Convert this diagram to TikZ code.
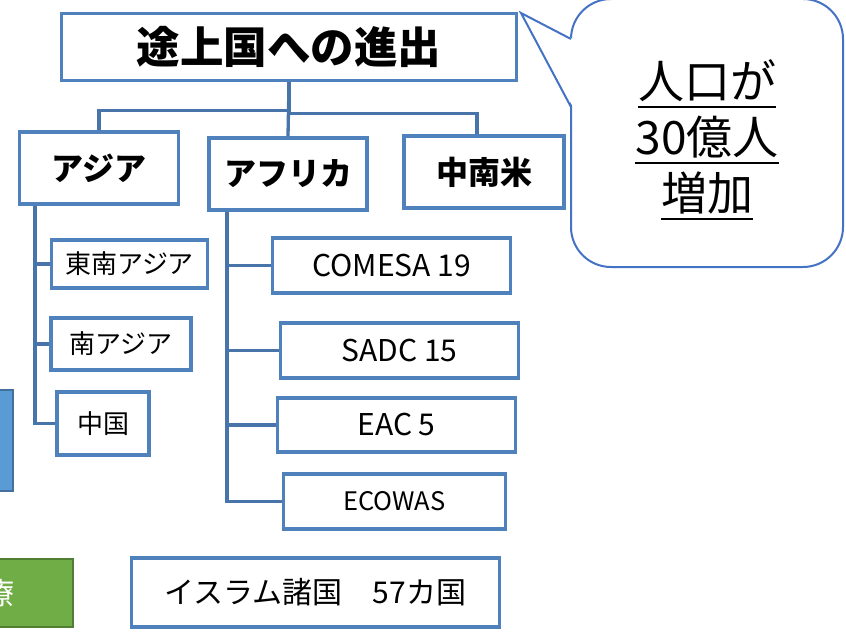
\documentclass[tikz,border=0pt]{standalone}
\usepackage{fontspec}
\setmainfont{Noto Sans CJK JP}
\definecolor{boxblue}{RGB}{79,129,189}
\definecolor{lineblue}{RGB}{72,116,170}
\definecolor{callblue}{RGB}{68,114,196}
\definecolor{gfill}{RGB}{112,173,71}
\definecolor{gline}{RGB}{80,126,50}
\definecolor{bfill}{RGB}{91,155,213}
\definecolor{bline}{RGB}{65,113,156}
\begin{document}
\begin{tikzpicture}[x=1pt,y=-1pt,
  box/.style={draw=boxblue, line width=3.3pt, fill=white, inner sep=0pt, align=center, text=black},
  conn/.style={draw=lineblue, line width=3.3pt},
  calltext/.style={inner sep=0pt, anchor=base, font=\fontsize{46}{50}\selectfont},
  ul/.style={draw=black, line width=2pt}]
\useasboundingbox (0,0) rectangle (846,634);
\clip (0,0) rectangle (846,634);

% partial shapes at the left edge
\node[draw=bline, fill=bfill, line width=2.5pt, minimum width=40pt, minimum height=101pt, inner sep=0pt] (bleft) at (-7,440.5) {};
\node[draw=gline, fill=gfill, line width=2.5pt, minimum width=100pt, minimum height=68pt, inner sep=0pt, text=white, font=\fontsize{30}{34}\selectfont] (gleft) at (23,593) {\hspace*{-48pt}療};

% main boxes
\node[box, minimum width=455pt, minimum height=67pt, font=\bfseries\fontsize{43.5}{48}\selectfont] (title) at (289,47) {途上国への進出};
\node[box, minimum width=159pt, minimum height=72pt, font=\bfseries\fontsize{32}{36}\selectfont] (asia) at (99,168) {アジア};
\node[box, minimum width=158pt, minimum height=72pt, font=\bfseries\fontsize{32}{36}\selectfont] (africa) at (288,174) {アフリカ};
\node[box, minimum width=160pt, minimum height=72pt, font=\bfseries\fontsize{32}{36}\selectfont] (latam) at (484,172) {中南米};

\node[box, minimum width=156pt, minimum height=48pt, font=\fontsize{26}{28}\selectfont] (sea) at (129.5,264) {東南アジア};
\node[box, minimum width=140pt, minimum height=52pt, font=\fontsize{26}{28}\selectfont] (sa) at (121,344) {南アジア};
\node[box, minimum width=92pt, minimum height=63pt, font=\fontsize{26}{28}\selectfont] (cn) at (103,423.5) {中国};

\node[box, minimum width=238pt, minimum height=55pt, font=\fontsize{30}{32}\selectfont] (comesa) at (391.5,265.5) {COMESA 19};
\node[box, minimum width=238pt, minimum height=55pt, font=\fontsize{30}{32}\selectfont] (sadc) at (399.5,350.5) {SADC 15};
\node[box, minimum width=238pt, minimum height=54pt, font=\fontsize{30}{32}\selectfont] (eac) at (396.5,425) {EAC 5};
\node[box, minimum width=222pt, minimum height=55pt, font=\fontsize{25.5}{28}\selectfont] (ecowas) at (394.5,501.5) {ECOWAS};

\node[box, minimum width=368pt, minimum height=69pt, font=\fontsize{30}{32}\selectfont] (islam) at (315.5,592.5) {イスラム諸国　57カ国};

% connectors
\coordinate (aT) at (35,0);
\coordinate (fT) at (227,0);
\draw[conn] (title.south) -- ++(0,28) -| (asia.north);
\draw[conn] (title.south) -- (africa.north);
\draw[conn] (title.south) -- ++(0,31) -| ([xshift=-7pt]latam.north);

\draw[conn] (asia.south -| aT) |- (cn.west);
\draw[conn] (sea.west -| aT) -- (sea.west);
\draw[conn] (sa.west -| aT) -- (sa.west);

\draw[conn] (africa.south -| fT) |- (ecowas.west);
\draw[conn] (comesa.west -| fT) -- (comesa.west);
\draw[conn] (sadc.west -| fT) -- (sadc.west);
\draw[conn] (eac.west -| fT) -- (eac.west);

% callout
\node[draw=callblue, line width=2pt, fill=white, rounded corners=40pt, minimum width=272pt, minimum height=268pt, inner sep=0pt] (call) at (707,133) {};
\coordinate (tip) at (521,13);
\coordinate (cb1) at (571,39);
\coordinate (cb2) at (571,107);
\fill[white] (tip) -- ([xshift=2pt]cb1) -- ([xshift=2pt]cb2) -- cycle;
\draw[draw=callblue, line width=2pt, line join=miter] (cb1) -- (tip) -- (cb2);

\node[calltext] (l1) at (707,98) {人口が};
\node[calltext] (l2) at (707,154) {30億人};
\node[calltext] (l3) at (707,210) {増加};
\draw[ul] ([yshift=-9pt]l1.base west) -- ([yshift=-9pt]l1.base east);
\draw[ul] ([yshift=-9pt]l2.base west) -- ([yshift=-9pt]l2.base east);
\draw[ul] ([yshift=-9pt]l3.base west) -- ([yshift=-9pt]l3.base east);
\end{tikzpicture}
\end{document}
